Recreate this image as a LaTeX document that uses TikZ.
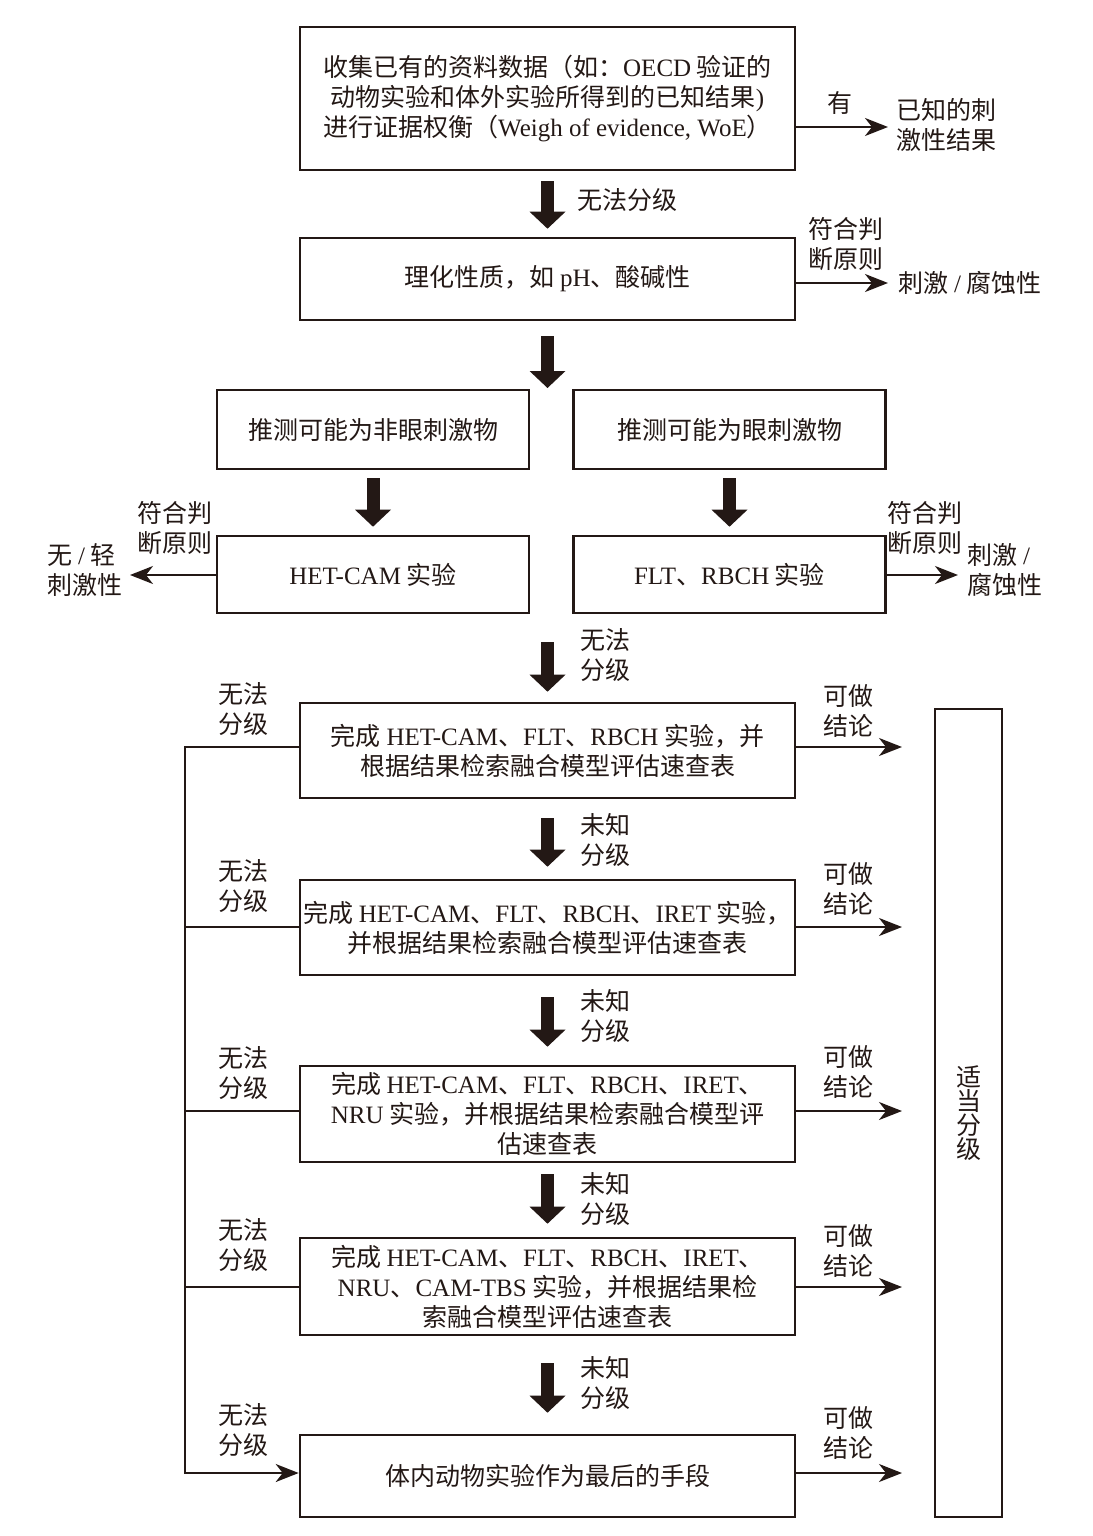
\documentclass[tikz,border=0pt]{standalone}
\usepackage{fontspec}
\setmainfont{Noto Sans CJK SC}
\newfontfamily\latinfont{Liberation Serif}
\newcommand\en[1]{{\latinfont #1}}
\usetikzlibrary{arrows.meta}
\definecolor{ink}{HTML}{231815}
\newcommand\fs{\fontsize{12.5pt}{15pt}\selectfont}
\tikzset{
  box/.style={draw=ink, line width=1.3pt, inner sep=0pt, align=center, text=ink, font=\fs},
  lbl/.style={inner sep=0pt, align=center, text=ink, font=\fs},
  lbll/.style={lbl, align=left},
  thinarrow/.style={draw=ink, line width=1pt, -{Stealth[length=11.5pt,width=9pt,inset=3.5pt]}},
  thinline/.style={draw=ink, line width=1pt},
  bigarrow/.style={draw=ink, line width=6.5pt, -{Triangle[length=8.5pt,width=18pt,line width=0pt]}},
  wide/.style={minimum width=247.5pt},
  half/.style={minimum width=156pt},
}
\begin{document}
\begin{tikzpicture}[x=0.5pt,y=-0.5pt]
\useasboundingbox (0,0) rectangle (1092,1536);
% main boxes
\node[box, wide, minimum height=71.5pt] (b1) at (547.5,98.5) {收集已有的资料数据（如：\en{OECD} 验证的\\动物实验和体外实验所得到的已知结果\en{)}\\进行证据权衡（\en{Weigh of evidence, WoE}）};
\node[box, wide, minimum height=41pt] (b2) at (547.5,279) {理化性质，如 \en{pH}、酸碱性};
\node[box, half, minimum height=39.5pt] (b3L) at (373,429.5) {推测可能为非眼刺激物};
\node[box, half, minimum height=39.5pt] (b3R) at (729.5,429.5) {推测可能为眼刺激物};
\node[box, half, minimum height=38.5pt] (b4L) at (373,574.5) {\en{HET-CAM} 实验};
\node[box, half, minimum height=38.5pt] (b4R) at (729.5,574.5) {\en{FLT}、\en{RBCH} 实验};
\node[box, wide, minimum height=47.5pt] (b5) at (547.5,750.5) {完成 \en{HET-CAM}、\en{FLT}、\en{RBCH} 实验，并\\根据结果检索融合模型评估速查表};
\node[box, wide, minimum height=47.5pt] (b6) at (547.5,927.5) {完成 \en{HET-CAM}、\en{FLT}、\en{RBCH}、\en{IRET} 实验，\\并根据结果检索融合模型评估速查表};
\node[box, wide, minimum height=48pt] (b7) at (547.5,1114) {完成 \en{HET-CAM}、\en{FLT}、\en{RBCH}、\en{IRET}、\\\en{NRU} 实验，并根据结果检索融合模型评\\估速查表};
\node[box, wide, minimum height=48.5pt] (b8) at (547.5,1286.5) {完成 \en{HET-CAM}、\en{FLT}、\en{RBCH}、\en{IRET}、\\\en{NRU}、\en{CAM-TBS} 实验，并根据结果检\\索融合模型评估速查表};
\node[box, wide, minimum height=41pt] (b9) at (547.5,1476) {体内动物实验作为最后的手段};
\node[box, minimum width=33.5pt, minimum height=404pt, font=\fontsize{12.5pt}{12pt}\selectfont] (bR) at (968.5,1113) {适\\当\\分\\级};

% top right outputs
\node[lbl] (l1) at (840,103) {有};
\node[lbll] (t1) at (946,125) {已知的刺\\激性结果};
\coordinate (e1) at (888,127);
\draw[thinarrow] (b1.east|-e1) -- (e1);

\node[lbl] (l3) at (846,244) {符合判\\断原则};
\node[lbl] (t2) at (970,283) {刺激 \en{/} 腐蚀性};
\coordinate (e2) at (888,283);
\draw[thinarrow] (b2.east|-e2) -- (e2);

% thick arrows
\node[lbl] (l2) at (627,200) {无法分级};
\draw[bigarrow, shorten <=5pt, shorten >=4pt] (b1) -- (b2);
\coordinate (sp) at (547.5,390);
\draw[bigarrow, shorten <=7.5pt, shorten >=1pt] (b2.south) -- (sp);
\draw[bigarrow, shorten <=4pt, shorten >=4pt] (b3L) -- (b4L);
\draw[bigarrow, shorten <=4pt, shorten >=4pt] (b3R) -- (b4R);

% side outputs of b4
\node[lbl] (l4) at (175,528) {符合判\\断原则};
\node[lbll] (t4) at (85,570) {无 \en{/} 轻\\刺激性};
\coordinate (e4L) at (130,575);
\draw[thinarrow] (b4L.west|-e4L) -- (e4L);
\node[lbl] (l5) at (925,528) {符合判\\断原则};
\node[lbll] (t5) at (1005,570) {刺激 \en{/}\\腐蚀性};
\coordinate (e4R) at (958,575);
\draw[thinarrow] (b4R.east|-e4R) -- (e4R);

\coordinate (c4) at (547.5,613);
\node[lbl] (m4) at (605,655) {无法\\分级};
\draw[bigarrow, shorten <=14.5pt, shorten >=5pt] (c4) -- (b5.north);
\node[lbl] (m5) at (605,840) {未知\\分级};
\draw[bigarrow, shorten <=9.5pt, shorten >=6pt] (b5) -- (b6);
\node[lbl] (m6) at (605,1016) {未知\\分级};
\draw[bigarrow, shorten <=10.5pt, shorten >=9pt] (b6) -- (b7);
\node[lbl] (m7) at (605,1199) {未知\\分级};
\draw[bigarrow, shorten <=5.5pt, shorten >=6.5pt] (b7) -- (b8);
\node[lbl] (m8) at (605,1383) {未知\\分级};
\draw[bigarrow, shorten <=13.5pt, shorten >=10.5pt] (b8) -- (b9);

% right conclusions
\coordinate (e5) at (902,747);
\coordinate (e6) at (902,927);
\coordinate (e7) at (902,1111);
\coordinate (e8) at (902,1287);
\coordinate (e9) at (902,1473);
\draw[thinarrow] (b5.east|-e5) -- (e5);
\draw[thinarrow] (b6.east|-e6) -- (e6);
\draw[thinarrow] (b7.east|-e7) -- (e7);
\draw[thinarrow] (b8.east|-e8) -- (e8);
\draw[thinarrow] (b9.east|-e9) -- (e9);
\node[lbl] (r5) at (848,711) {可做\\结论};
\node[lbl] (r6) at (848,889) {可做\\结论};
\node[lbl] (r7) at (848,1072) {可做\\结论};
\node[lbl] (r8) at (848,1251) {可做\\结论};
\node[lbl] (r9) at (848,1433) {可做\\结论};

% left bus
\coordinate (L5) at (185,747);
\coordinate (L6) at (185,927);
\coordinate (L7) at (185,1111);
\coordinate (L8) at (185,1287);
\coordinate (L9) at (185,1473);
\draw[thinarrow] (b5.west|-L5) -- (L5) -- (L9) -- (b9.west|-L9);
\draw[thinline] (b6.west|-L6) -- (L6);
\draw[thinline] (b7.west|-L7) -- (L7);
\draw[thinline] (b8.west|-L8) -- (L8);
\node[lbl] (w5) at (243,709) {无法\\分级};
\node[lbl] (w6) at (243,886) {无法\\分级};
\node[lbl] (w7) at (243,1073) {无法\\分级};
\node[lbl] (w8) at (243,1245) {无法\\分级};
\node[lbl] (w9) at (243,1430) {无法\\分级};
\end{tikzpicture}
\end{document}
